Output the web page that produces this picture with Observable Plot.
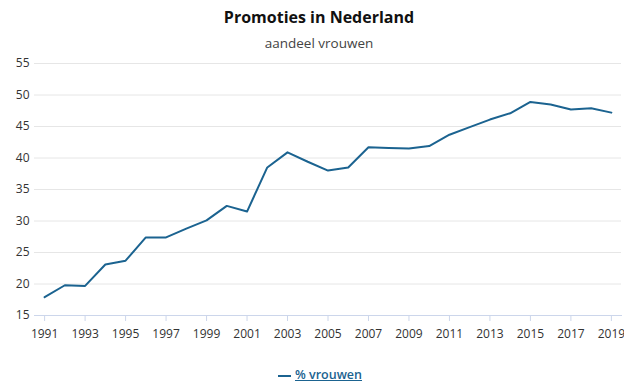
<!DOCTYPE html>
<html>
<head>
<meta charset="utf-8">
<script src="https://cdn.jsdelivr.net/npm/d3@7"></script>
<script src="https://cdn.jsdelivr.net/npm/@observablehq/plot@0.6"></script>
<style>
  body { margin: 0; background: #fff; font-family: "Open Sans", sans-serif; }
  #wrap { width: 624px; }
  .title { height: 29px; padding-top: 5px; line-height: 24px; font-size: 16px; font-weight: 700; color: #111; text-align: center; padding-left: 14px; box-sizing: content-box; }
  .sub { height: 18px; line-height: 18px; font-size: 13.5px; color: #444; text-align: center; padding-left: 14px; }
  .legend { padding-top: 14px; line-height: 18px; font-size: 12.5px; text-align: center; padding-left: 16px; }
  .legend a { color: #1b6390; text-decoration: underline; font-weight: 600; }
  .legend svg { vertical-align: middle; margin-right: 4px; }
</style>
</head>
<body>
<div id="wrap">
  <div class="title">Promoties in Nederland</div>
  <div class="sub">aandeel vrouwen</div>
  <div id="chart"></div>
  <div class="legend"><svg width="13" height="4"><line x1="0" x2="13" y1="2" y2="2" stroke="#1b6390" stroke-width="2"/></svg><a>% vrouwen</a></div>
</div>
<script>
const years = [1991,1992,1993,1994,1995,1996,1997,1998,1999,2000,2001,2002,2003,2004,2005,2006,2007,2008,2009,2010,2011,2012,2013,2014,2015,2016,2017,2018,2019];
const vrouwen = [17.9,19.8,19.7,23.1,23.7,27.4,27.4,28.8,30.1,32.4,31.5,38.5,40.9,39.4,38.0,38.5,41.7,41.6,41.5,41.9,43.7,44.9,46.1,47.1,48.9,48.5,47.7,47.9,47.2];
const yTicks = [15,20,25,30,35,40,45,50,55];
const xTicks = [1991,1993,1995,1997,1999,2001,2003,2005,2007,2009,2011,2013,2015,2017,2019];

const chart = Plot.plot({
  width: 624,
  height: 300,
  marginTop: 11,
  marginBottom: 37,
  marginLeft: 34,
  marginRight: 3,
  style: { fontFamily: "Open Sans", fontSize: "12px", background: "#fff" },
  x: { domain: [d3.min(years) - 0.5, d3.max(years) + 0.5] },
  y: { domain: d3.extent(yTicks) },
  marks: [
    Plot.gridY(yTicks, { stroke: "#e6e6e6", strokeOpacity: 1 }),
    Plot.frame({ anchor: "bottom", stroke: "#ccd6eb" }),
    Plot.axisY({ ticks: yTicks, tickSize: 0, tickPadding: 5, fill: "#333", label: null }),
    Plot.axisX({ ticks: xTicks, tickFormat: d => String(d), tickSize: 6, tickPadding: 8, stroke: "#ccd6eb", fill: "#333", label: null }),
    Plot.line(years, { x: years, y: vrouwen, stroke: "#1b6390", strokeWidth: 2 })
  ]
});
document.getElementById("chart").appendChild(chart);
</script>
</body>
</html>
